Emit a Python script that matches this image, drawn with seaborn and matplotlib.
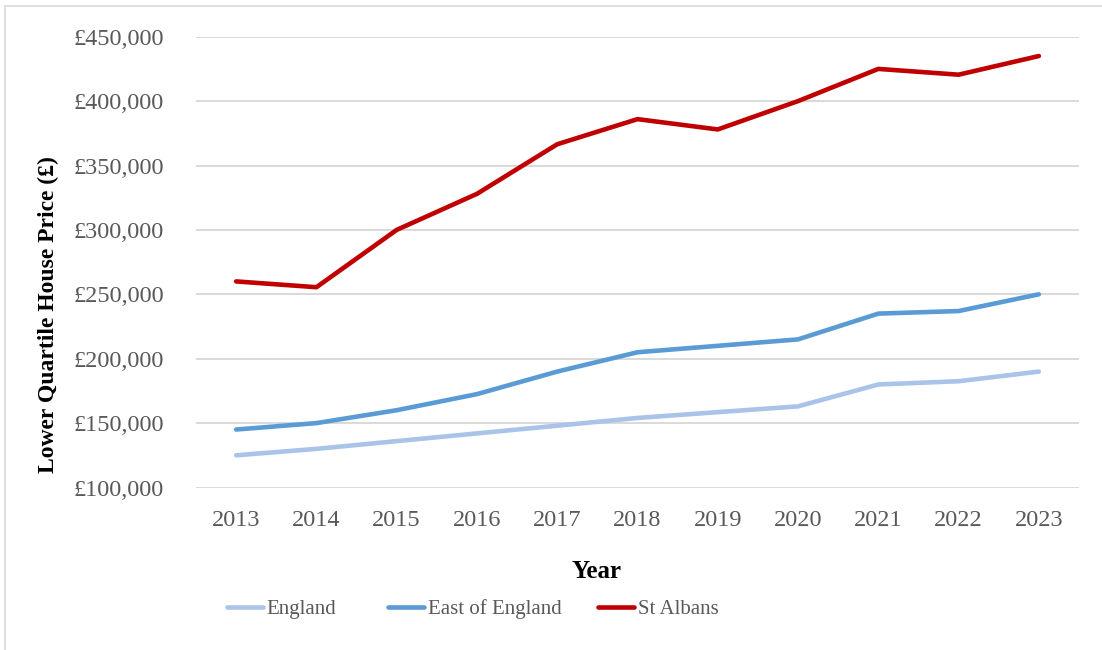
import pandas as pd
import matplotlib
matplotlib.use("Agg")
from matplotlib import pyplot as plt
from matplotlib.lines import Line2D
from matplotlib.ticker import FuncFormatter
import seaborn as sns

years = [2013, 2014, 2015, 2016, 2017, 2018, 2019, 2020, 2021, 2022, 2023]
england = [125000, 130000, 136000, 142000, 148000, 154000, 158500, 163000, 180000, 182500, 190000]
east_of_england = [145000, 150000, 160000, 172500, 190000, 205000, 210000, 215000, 235000, 237000, 250000]
st_albans = [260000, 255500, 300000, 328000, 366500, 386000, 378000, 400000, 425000, 420500, 435000]

series_names = ["England", "East of England", "St Albans"]
series_colors = ["#A9C4E8", "#5B9BD5", "#C00000"]
# left edge (px) of each legend entry, as in the source chart
legend_left_px = [227, 388, 598]


def build_frame() -> pd.DataFrame:
    rows = []
    for name, values in zip(series_names, [england, east_of_england, st_albans]):
        for i, (yr, v) in enumerate(zip(years, values)):
            rows.append({"pos": i, "Year": str(yr), "Area": name, "Price": v})
    return pd.DataFrame(rows)


df = build_frame()

sns.set_theme(style="white")
plt.rcParams["font.family"] = ["Liberation Serif", "DejaVu Serif"]

fig = plt.figure(figsize=(11.02, 6.5), dpi=100)
ax = fig.add_axes([196 / 1102, 1 - 487.5 / 650, 883 / 1102, 450.8 / 650])

sns.lineplot(data=df, x="pos", y="Price", hue="Area", hue_order=series_names,
             palette=series_colors, linewidth=3.3, legend=False, ax=ax,
             solid_capstyle="round")

ax.set_xlim(-0.5, len(years) - 0.5)
ax.set_ylim(100000, 450000)
ax.set_yticks(range(100000, 450001, 50000))
ax.yaxis.set_major_formatter(FuncFormatter(lambda v, p: f"£{int(v):,}"))
ax.set_xticks(range(len(years)))
ax.set_xticklabels([str(y) for y in years])
ax.grid(axis="y", color="#D9D9D9", linewidth=1.4)
ax.grid(axis="x", visible=False)
ax.set_axisbelow(True)
for s in ax.spines.values():
    s.set_visible(False)

ax.tick_params(axis="both", length=0, labelsize=17.5, labelcolor="#595959")
ax.tick_params(axis="y", pad=23)
ax.tick_params(axis="x", pad=16)

ax.set_xlabel("Year", fontsize=18, fontweight="bold", color="black")
ax.xaxis.set_label_coords((597 - 196) / 883, (487.5 - 572) / 450.8)
ax.xaxis.label.set_va("center")
ax.set_ylabel("Lower Quartile House Price (£)", fontsize=17, fontweight="bold", color="black")
ax.yaxis.set_label_coords((48 - 196) / 883, (487.5 - 315) / 450.8)
ax.yaxis.label.set_va("center")

# one legend per entry so each sits where the original puts it
for name, color, left in zip(series_names, series_colors, legend_left_px):
    h = Line2D([0], [0], color=color, linewidth=3.3, solid_capstyle="round")
    leg = fig.legend([h], [name], loc="center left",
                     bbox_to_anchor=(left / 1102, 1 - 609 / 650), frameon=False,
                     borderpad=0, borderaxespad=0,
                     fontsize=15, handlelength=1.75, handletextpad=0.15)
    leg.get_texts()[0].set_color("#595959")

# chart border (left and top visible)
fig.add_artist(Line2D([5 / 1102, 5 / 1102], [0, 1 - 6 / 650], transform=fig.transFigure,
                      color="#D9D9D9", linewidth=1.2))
fig.add_artist(Line2D([5 / 1102, 1], [1 - 6 / 650, 1 - 6 / 650], transform=fig.transFigure,
                      color="#D9D9D9", linewidth=1.2))

fig.savefig("out.png", dpi=100)
